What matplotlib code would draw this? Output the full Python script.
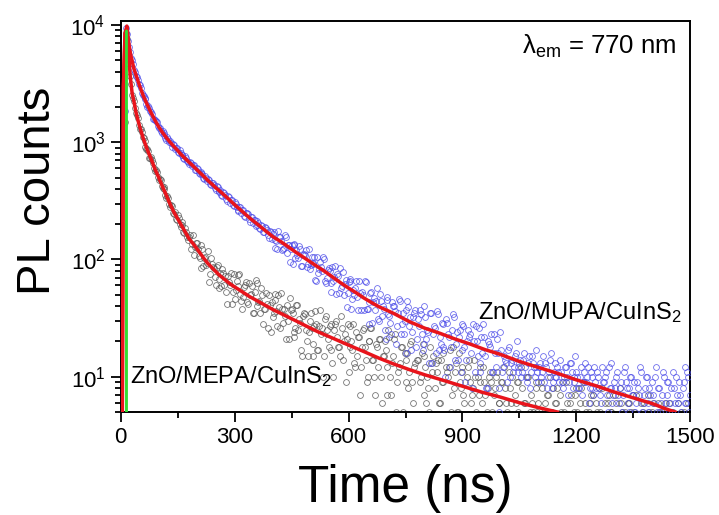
import numpy as np
import matplotlib
matplotlib.use("Agg")
import matplotlib.pyplot as plt
from matplotlib.ticker import LogLocator, MultipleLocator, FixedLocator, NullFormatter

plt.rcParams['font.family'] = ['Liberation Sans', 'DejaVu Sans']
plt.rcParams['mathtext.fontset'] = 'custom'
plt.rcParams['mathtext.rm'] = 'Liberation Sans'
plt.rcParams['mathtext.it'] = 'Liberation Sans:italic'

# TCSPC channels (ns): even set and the in-between set
time_a = np.arange(10, 1505, 5)
time_b = np.arange(12.5, 1500, 5)

# ZnO/MUPA/CuInS2 decay counts
mupa_a = [
    1850, 9420, 7290, 5870, 5010, 4170, 3680, 3410, 3090, 2650,
    2470, 2330, 2010, 1950, 1820, 1590, 1560, 1500, 1330, 1240,
    1250, 1160, 1040, 1070, 1020, 915, 945, 890, 820, 858,
    772, 735, 760, 695, 648, 671, 642, 584, 601, 548,
    556, 539, 488, 495, 482, 437, 449, 431, 392, 416,
    381, 356, 374, 352, 318, 341, 322, 290, 311, 279,
    259, 283, 262, 236, 251, 244, 209, 230, 217, 193,
    211, 186, 196, 171, 189, 178, 152, 170,
    165, 126, 144, 176, 155, 121, 126, 156, 132, 96,
    132, 133, 103, 109, 130, 88, 109, 110, 86, 124,
    89, 94, 106, 65, 76, 95, 80, 100, 63, 81,
    80, 53, 66, 88, 75, 52, 57, 78, 62, 39,
    64, 65, 46, 50, 65, 37, 52, 53, 37, 64,
    38, 28, 53, 43, 37, 57, 30, 44, 40, 25,
    48, 34, 29, 43, 40, 19, 35, 44, 28, 23,
    37, 44, 27, 17, 32, 37, 21, 27, 34, 17,
    40, 21, 24, 35, 13, 27, 16, 34, 22, 29,
    18, 10, 29, 22, 18, 34, 14, 24, 22, 11,
    28, 18, 14, 25, 23, 8, 20, 27, 15, 11,
    22, 28, 15, 8, 19, 23, 11, 16, 21, 8,
    24, 11, 15, 13, 17, 10, 14, 12, 16, 11,
    13, 10, 14, 12, 9, 15, 11, 13, 10, 12,
    9, 13, 11, 9, 12, 10, 14, 8, 11, 10,
    12, 9, 11, 8, 12, 10, 9, 13, 8, 10,
    11, 8, 10, 7, 11, 9, 12, 8, 10, 7,
    9, 11, 8, 6, 9, 10, 7, 12, 8, 6,
    9, 10, 7, 8, 5, 11, 9, 6, 8, 10,
    7, 5, 9, 7, 11, 6, 8, 10, 5, 7,
    9, 6, 12, 8, 5, 7, 10, 6, 9, 5,
    8, 11, 6, 7, 9, 5, 8, 12, 6, 10,
    7,
]
mupa_b = [
    6500, 8400, 6450, 5230, 4610, 3940, 3610, 3130, 2900, 2550,
    2380, 2120, 2040, 1830, 1740, 1570, 1520, 1380, 1335, 1210,
    1200, 1095, 1100, 1005, 990, 960, 880, 890, 815, 810,
    785, 720, 730, 672, 680, 625, 640, 582, 590, 541,
    552, 500, 512, 470, 478, 432, 445, 404, 420, 378,
    392, 350, 370, 331, 345, 305, 322, 286, 300, 266,
    281, 250, 265, 232, 248, 220, 232, 203, 219, 195,
    206, 182, 194, 170, 184, 163, 174, 151,
    173, 147, 123, 155, 144, 123, 161, 113, 134, 122,
    91, 136, 120, 102, 123, 88, 111, 121, 92, 83,
    105, 92, 67, 106, 83, 87, 104, 66, 70, 84,
    63, 86, 71, 51, 72, 84, 59, 50, 67, 52,
    68, 38, 55, 57, 48, 66, 37, 50, 65, 38,
    43, 52, 29, 47, 44, 31, 51, 33, 38, 21,
    45, 33, 23, 40, 36, 27, 46, 23, 35, 30,
    16, 39, 32, 24, 35, 18, 31, 37, 23, 19,
    32, 25, 13, 35, 23, 26, 36, 17, 19, 28,
    17, 31, 23, 12, 25, 32, 19, 14, 25, 17,
    27, 9, 20, 22, 16, 28, 11, 20, 26, 13,
    16, 22, 8, 20, 18, 11, 23, 12, 16, 5,
    17, 12, 14, 9, 18, 13, 11, 15, 20, 12,
    14, 11, 16, 10, 13, 8, 15, 12, 17, 11,
    12, 10, 15, 13, 8, 11, 16, 9, 13, 10,
    11, 14, 9, 10, 12, 7, 13, 11, 9, 15,
    10, 8, 12, 9, 13, 10, 6, 11, 8, 12,
    8, 10, 7, 12, 9, 11, 5, 8, 13, 7,
    8, 11, 6, 9, 7, 12, 8, 5, 10, 7,
    9, 6, 8, 12, 5, 7, 10, 6, 8, 4,
    7, 10, 5, 8, 6, 11, 4, 7, 9, 6,
    5, 8, 10, 6, 7, 4, 9, 6, 11, 5,
]

# ZnO/MEPA/CuInS2 decay counts
mepa_a = [
    1500, 8600, 5850, 3700, 2520, 2260, 1770, 1610, 1310, 1230,
    1090, 915, 875, 740, 745, 660, 570, 562, 478, 472,
    410, 401, 337, 335, 281, 288, 245, 221, 238, 199,
    209, 170, 184, 155, 156, 123, 163, 127, 137, 107,
    85, 123, 102, 90, 118, 75, 91, 84, 60, 90,
    68, 59, 77, 72, 42, 64, 77, 53, 46, 65,
    74, 51, 38, 58, 64, 42, 50, 59, 35, 67,
    40, 44, 57, 28, 38, 42, 50, 24, 32, 45,
    36, 50, 26, 38, 38, 21, 30, 47, 38, 22,
    26, 41, 31, 17, 33, 34, 20, 24, 35, 15,
    27, 28, 17, 37, 26, 15, 33, 21, 27, 17,
    10, 28, 22, 18, 33, 14, 23, 21, 11, 27,
    17, 13, 24, 22, 7, 18, 26, 14, 10, 20,
    26, 14, 7, 18, 21, 10, 15, 20, 7, 25,
    10, 13, 21, 5, 11, 13, 18, 4, 9, 16,
    11, 20, 6, 13, 14, 4, 10, 19, 15, 6,
    8, 18, 11, 2, 13, 14, 6, 9, 16, 4,
    11, 12, 5, 18, 11, 5, 16, 8, 12, 6,
    3, 12, 9, 7, 14, 5, 10, 9, 3, 12,
    7, 5, 10, 9, 2, 8, 11, 6, 4, 9,
    12, 6, 2, 8, 10, 4, 6, 9, 3, 12,
    4, 6, 10, 1, 7, 5, 3, 9, 6, 4,
    8, 5, 2, 7, 10, 5, 3, 6, 8, 4,
    5, 9, 3, 6, 4, 7, 2, 5, 8, 3,
    6, 4, 9, 5, 2, 6, 4, 7, 3, 5,
    8, 2, 4, 6, 3, 7, 5, 2, 4, 6,
    3, 8, 5, 2, 4, 6, 3, 5, 7, 2,
    4, 3, 6, 5, 2, 4, 7, 3, 5, 2,
    4, 6, 3, 5, 2, 4, 3, 6, 2, 5,
    3, 4, 2, 5, 3, 4, 2, 6, 3,
]
mepa_b = [
    5200, 7600, 4620, 3120, 2370, 1970, 1720, 1400, 1300, 1100,
    1030, 880, 850, 730, 705, 600, 582, 502, 490, 420,
    415, 352, 350, 296, 294, 250, 256, 218, 224, 190,
    197, 168, 172, 146,
    163, 135, 109, 137, 124, 102, 133, 88, 105, 93,
    64, 102, 87, 71, 87, 57, 76, 83, 60, 53,
    72, 61, 42, 75, 55, 59, 75, 44, 48, 60,
    43, 63, 51, 35, 53, 63, 43, 35, 50, 38,
    52, 26, 41, 43, 35, 51, 27, 39, 52, 29,
    33, 41, 21, 37, 35, 24, 41, 25, 29, 15,
    35, 25, 15, 30, 26, 19, 36, 17, 27, 23,
    10, 31, 25, 18, 28, 13, 25, 30, 18, 15,
    26, 20, 9, 28, 18, 20, 28, 12, 15, 22,
    12, 25, 18, 9, 20, 26, 14, 10, 19, 12,
    21, 6, 15, 17, 12, 22, 7, 15, 23, 9,
    12, 18, 5, 16, 14, 8, 19, 9, 12, 3,
    14, 9, 16, 7, 12, 10, 5, 13, 15, 8,
    11, 6, 14, 9, 4, 12, 10, 17, 7, 8,
    13, 5, 9, 11, 7, 3, 10, 14, 6, 8,
    10, 4, 7, 12, 6, 9, 3, 8, 11, 5,
    7, 10, 4, 6, 9, 2, 8, 5, 11, 6,
    3, 7, 9, 5, 4, 8, 6, 2, 10, 5,
    6, 3, 8, 5, 4, 9, 2, 6, 7, 4,
    5, 8, 3, 6, 2, 7, 4, 5, 9, 3,
    6, 4, 2, 7, 5, 3, 8, 4, 6, 2,
    5, 7, 3, 4, 6, 2, 5, 8, 3, 4,
    6, 2, 5, 4, 7, 3, 4, 6, 2, 5,
    3, 6, 4, 2, 5, 7, 3, 4, 2, 6,
    4, 3, 5, 2, 6, 4, 3, 5, 2, 4,
    6, 3, 2, 5, 4, 2, 3, 6, 4, 2,
    5, 3, 4, 2,
]

# fitted curves
fit_t_mupa = [4, 7, 11, 16, 20, 25, 30, 35, 40,
              50, 60, 70, 80, 90, 100, 110, 120, 130, 140, 150, 160, 170, 180,
              190, 200, 210, 220, 230, 240, 250, 260, 270, 280, 290, 300,
              320, 340, 360, 380, 400, 420, 440, 460, 480, 500, 520, 540, 560,
              580, 600, 620, 640, 660, 680, 700, 720,
              760, 800, 840, 880, 920, 960, 1000,
              1050, 1100, 1150, 1200, 1250, 1300, 1350, 1400, 1430, 1460]
fit_mupa = [5, 3000, 8500, 9800, 7400, 5800, 4900, 4200, 3750,
            3000, 2460, 2080, 1780, 1540, 1350, 1210, 1095, 1000, 920, 850, 780,
            725, 675, 630, 585, 545, 507, 470, 440, 410, 385, 360, 337, 314, 293,
            257, 225, 200, 177, 157, 143, 129, 116, 105, 95, 86, 78, 70,
            63, 57, 52, 47, 43, 39.5, 37, 34.5,
            29.5, 26, 23.5, 21, 19, 17, 15.5,
            13.5, 12, 10.7, 9.4, 8.4, 7.4, 6.6, 5.9, 5.4, 5.0]

fit_t_mepa = [4, 7, 11, 16, 20, 25, 30, 35, 40, 45, 50,
              60, 70, 80, 90, 100, 110, 120, 130, 140, 150, 160, 170, 180, 190,
              200, 210, 220, 230, 240, 250, 260, 270, 280,
              290, 310, 340, 370, 400, 430, 460, 490, 520, 560, 600, 640, 680,
              720, 760, 800, 850, 900, 950, 1000, 1050, 1100, 1150]
fit_mepa = [5, 3000, 8000, 9500, 6000, 3600, 2600, 2200, 1800, 1550, 1350,
            1060, 860, 720, 590, 500, 418, 352, 296, 253, 222, 195, 171, 150, 137,
            124, 112, 101, 92, 85.3, 79, 73.3, 69, 65,
            61.2, 55.6, 48.1, 42.5, 37.5, 33.6, 30.1, 26.9, 24.1, 21.2, 18.6,
            16.4, 14.4, 12.8, 11.5, 10.4, 9.3, 8.3, 7.4, 6.7, 6.0, 5.45, 5.0]

# instrument response
irf_t = [14, 15, 16]
irf_counts = [4, 9000, 4]

fig = plt.figure(figsize=(7.19, 5.15), dpi=100)
ax = fig.add_axes([0.168, 0.2, 0.792, 0.759])

circ = dict(ls='none', marker='o', ms=4.2, mfc='none', mew=0.6, alpha=0.8)
ax.plot(time_a, mepa_a, mec='#555555', zorder=2, **circ)
ax.plot(time_b, mepa_b, mec='#555555', zorder=2, **circ)
ax.plot(time_a, mupa_a, mec='#4a4ae8', zorder=3, **circ)
ax.plot(time_b, mupa_b, mec='#4a4ae8', zorder=3, **circ)
ax.plot(fit_t_mepa, fit_mepa, color='#e8141b', lw=2.5, zorder=4)
ax.plot(fit_t_mupa, fit_mupa, color='#e8141b', lw=2.5, zorder=4)
ax.plot(irf_t, irf_counts, color='#33dd33', lw=1.4, zorder=5)

ax.set_yscale('log')
ax.set_xlim(0, 1500)
ax.set_ylim(5, 10800)

ax.xaxis.set_major_locator(MultipleLocator(300))
ax.xaxis.set_minor_locator(MultipleLocator(150))
ax.yaxis.set_major_locator(FixedLocator([10, 100, 1000, 10000]))
ax.yaxis.set_minor_locator(LogLocator(base=10, subs=np.arange(2, 10)))
ax.yaxis.set_minor_formatter(NullFormatter())
ax.set_yticklabels(['10$^{1}$', '10$^{2}$', '10$^{3}$', '10$^{4}$'])

ax.tick_params(which='both', direction='out', top=False, right=False,
               labelsize=16, width=1.3, colors='black')
ax.tick_params(which='major', length=7, pad=4)
ax.tick_params(which='minor', length=4.5)
for s in ax.spines.values():
    s.set_linewidth(1.4)

ax.set_xlabel('Time (ns)', fontsize=37, labelpad=11)
ax.set_ylabel('PL counts', fontsize=34)
ax.yaxis.set_label_coords(-0.107, 0.565)

ax.text(0.975, 0.935, 'λ$_{\\mathrm{em}}$ = 770 nm', transform=ax.transAxes,
        ha='right', va='center', fontsize=18.5)
ax.text(0.985, 0.255, 'ZnO/MUPA/CuInS$_2$', transform=ax.transAxes,
        ha='right', va='center', fontsize=17)
ax.text(0.016, 0.09, 'ZnO/MEPA/CuInS$_2$', transform=ax.transAxes,
        ha='left', va='center', fontsize=17)

fig.savefig('out.png', dpi=100)
